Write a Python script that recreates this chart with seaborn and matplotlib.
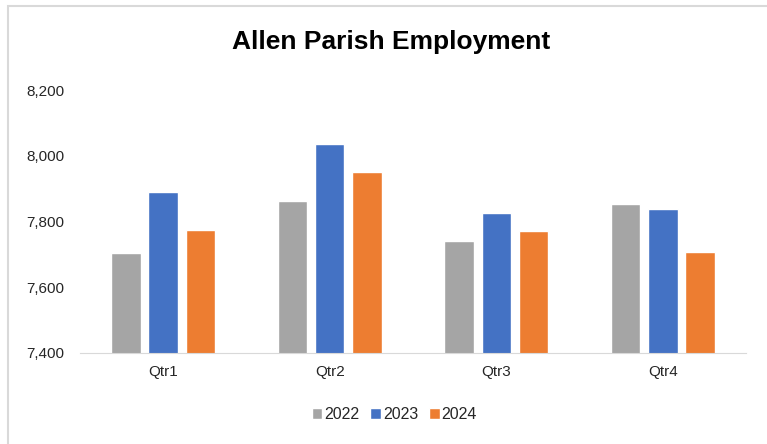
import pandas as pd
import numpy as np
import matplotlib.pyplot as plt
import seaborn as sns
from matplotlib.patches import Rectangle
from matplotlib.ticker import FuncFormatter

# Chart values
quarters = ['Qtr1', 'Qtr2', 'Qtr3', 'Qtr4']
years = ['2022', '2023', '2024']
emp_2022 = [7703, 7862, 7740, 7854]
emp_2023 = [7891, 8036, 7825, 7837]
emp_2024 = [7774, 7950, 7770, 7707]
yticks = [7400, 7600, 7800, 8000, 8200]

df = pd.DataFrame({
    'quarter': quarters * 3,
    'year': [y for y in years for _ in quarters],
    'employment': emp_2022 + emp_2023 + emp_2024,
})

sns.set_style('white')
plt.rcParams['font.family'] = ['Liberation Sans', 'DejaVu Sans']

palette = {'2022': '#A5A5A5', '2023': '#4472C4', '2024': '#ED7D31'}

fig = plt.figure(figsize=(7.67, 4.44), dpi=100)
ax = fig.add_axes([0.104, 0.205, 0.869, 0.592])

sns.barplot(data=df, x='quarter', y='employment', hue='year', palette=palette,
            width=0.67, gap=0.21, ax=ax, legend=True, saturation=1)

ax.set_ylim(7400, 8200)
ax.set_yticks(yticks)
ax.yaxis.set_major_formatter(FuncFormatter(lambda v, p: f'{int(v):,}'))
ax.set_xlabel('')
ax.set_ylabel('')
ax.tick_params(axis='both', labelsize=11, colors='#262626', length=0)
ax.tick_params(axis='y', pad=11)
ax.tick_params(axis='x', pad=9)
for side in ['left', 'right', 'top']:
    ax.spines[side].set_visible(False)
ax.spines['bottom'].set_color('#D9D9D9')

fig.text(0.5 * (232 + 550) / 767, 1 - 42 / 444, 'Allen Parish Employment',
         fontsize=19, fontweight='bold', color='black', ha='center', va='center')

handles, labels = ax.get_legend_handles_labels()
ax.legend(handles, labels, loc='center', bbox_to_anchor=(0.472, -0.235),
          ncol=3, frameon=False, fontsize=11.5, handlelength=0.65,
          handleheight=0.65, handletextpad=0.12, columnspacing=0.7)

# light outer frame (left and top edges visible in the reference)
fig.patches.append(Rectangle((8 / 767, -0.05), 1.1, 1 - 6 / 444 + 0.05,
                             transform=fig.transFigure, fill=False,
                             edgecolor='#D9D9D9', linewidth=1.5))

plt.savefig('out.png', dpi=100)
